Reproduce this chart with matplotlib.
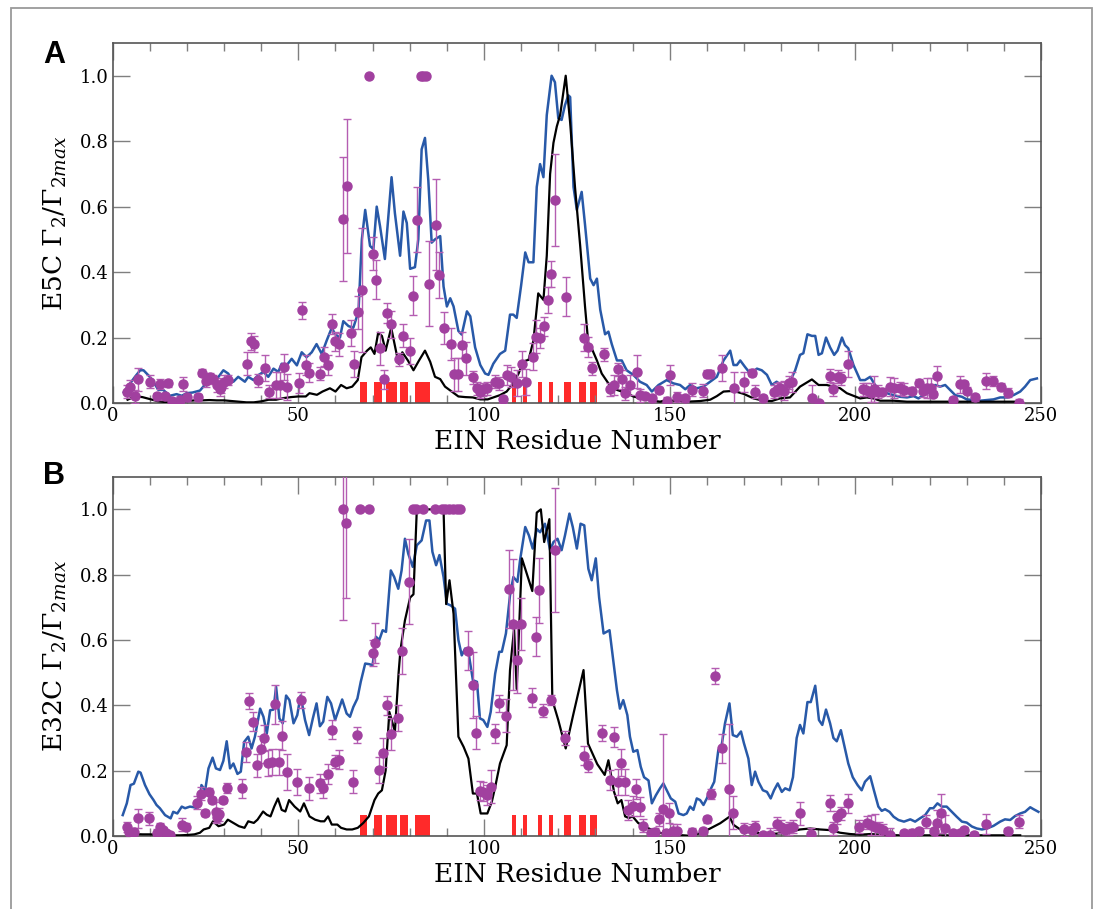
import numpy as np
import matplotlib
matplotlib.use("Agg")
import matplotlib.pyplot as plt
from matplotlib.patches import Rectangle
from matplotlib.ticker import MultipleLocator

plt.rcParams['font.family'] = ['DejaVu Serif']
plt.rcParams['mathtext.fontset'] = 'dejavuserif'

# ---- data: (residue, value) ----
a_blue = [(3, 0.033), (4.7, 0.06), (6, 0.08), (7.4, 0.10), (8.3, 0.10), (10, 0.08), (11.2, 0.06), (12.3, 0.04),
          (13.6, 0.04), (15.4, 0.022), (17.2, 0.027), (18.6, 0.022), (19.9, 0.03), (21.5, 0.032), (23.5, 0.038),
          (24.4, 0.05), (25.8, 0.075), (27.1, 0.07), (28.5, 0.08), (29.8, 0.10), (31.1, 0.09), (32.5, 0.065),
          (33.8, 0.08), (35.6, 0.065), (36.5, 0.08), (37.9, 0.07), (39.2, 0.085), (40.6, 0.095), (41.9, 0.08),
          (43.3, 0.105), (44.6, 0.095), (45.5, 0.12), (46.9, 0.116), (48.2, 0.135), (49.6, 0.115), (50.9, 0.155),
          (52.2, 0.14), (53.6, 0.155), (54.9, 0.18), (56.3, 0.15), (57.6, 0.19), (59, 0.23), (59.9, 0.21),
          (61.2, 0.20), (62.1, 0.25), (63.5, 0.235), (64.8, 0.23), (66.2, 0.28), (67.1, 0.50), (68, 0.59),
          (69.3, 0.48), (70.2, 0.47), (71.1, 0.60), (72, 0.54), (73.3, 0.44), (75.1, 0.69), (76, 0.58),
          (77.4, 0.45), (78.3, 0.585), (79.2, 0.55), (80.1, 0.41), (81.4, 0.415), (82.3, 0.50), (83.2, 0.775),
          (84.1, 0.81), (85, 0.68), (85.9, 0.49), (86.8, 0.50), (88.2, 0.51), (89.1, 0.356), (90, 0.295),
          (90.9, 0.32), (91.8, 0.295), (93.1, 0.22), (94, 0.209), (95.4, 0.28), (96.3, 0.265), (97.6, 0.17),
          (99, 0.116), (100.3, 0.09), (101.2, 0.086), (102.5, 0.12), (104.3, 0.15), (105.7, 0.16), (107, 0.27),
          (107.9, 0.27), (108.8, 0.26), (110, 0.36), (111.1, 0.46), (112, 0.43), (113.3, 0.43), (114.2, 0.66),
          (115.1, 0.73), (116, 0.69), (116.9, 0.88), (118.2, 1.0), (119.1, 0.98), (120, 0.87), (120.9, 0.865),
          (121.8, 0.91), (122.7, 0.94), (123.2, 0.935), (124.1, 0.66), (125, 0.59), (126.3, 0.645),
          (127.2, 0.545), (128.6, 0.38), (129.5, 0.36), (130.4, 0.38), (131.3, 0.285), (132.6, 0.21),
          (133.5, 0.218), (134.4, 0.18), (135.8, 0.13), (137.1, 0.13), (138.4, 0.10), (140.2, 0.086),
          (142, 0.065), (143.8, 0.055), (145.2, 0.035), (147, 0.055), (149.2, 0.07), (151, 0.06), (152.8, 0.055),
          (154.2, 0.042), (155.5, 0.055), (157.3, 0.045), (159.1, 0.05), (160.9, 0.065), (162.7, 0.08),
          (164.5, 0.13), (166.3, 0.16), (167.2, 0.116), (168.1, 0.116), (169, 0.13), (170.3, 0.11),
          (171.7, 0.09), (173.5, 0.105), (174.8, 0.10), (176.2, 0.086), (177.5, 0.055), (178.8, 0.065),
          (180.6, 0.05), (182.4, 0.065), (183.8, 0.10), (185.1, 0.147), (186, 0.152), (187.1, 0.21),
          (188.3, 0.205), (189.2, 0.205), (190.1, 0.147), (191, 0.152), (192.1, 0.20), (193.2, 0.17),
          (194.3, 0.147), (195.2, 0.16), (196.4, 0.20), (197.2, 0.177), (198.1, 0.167), (199.5, 0.116),
          (201.3, 0.07), (202.6, 0.07), (204, 0.08), (205.3, 0.055), (206.7, 0.04), (208.5, 0.03),
          (210.3, 0.024), (212, 0.019), (213.9, 0.017), (215.7, 0.021), (217, 0.014), (218.3, 0.024),
          (220.1, 0.035), (221.5, 0.055), (222.8, 0.05), (224.2, 0.055), (225.5, 0.04), (226.9, 0.024),
          (228.7, 0.019), (230, 0.011), (231.8, 0.009), (233.6, 0.007), (235.4, 0.009), (237.2, 0.011),
          (239, 0.017), (240.8, 0.017), (242.6, 0.024), (244.4, 0.035), (245.7, 0.05), (247.1, 0.07),
          (248.9, 0.075)]

a_black = [(4, 0.01), (5, 0.015), (6.5, 0.02), (8, 0.018), (10, 0.012), (12, 0.006), (14, 0.003), (16, 0.002),
           (18, 0.004), (20, 0.006), (22, 0.008), (24, 0.008), (26, 0.009), (28, 0.008), (30, 0.008), (32, 0.006),
           (34, 0.004), (36, 0.002), (38, 0.002), (40, 0.005), (42, 0.01), (44, 0.01), (46, 0.015), (48, 0.018),
           (50, 0.02), (52, 0.02), (53, 0.03), (55, 0.025), (56.5, 0.035), (58.5, 0.045), (60, 0.035),
           (61.5, 0.055), (63, 0.045), (64.5, 0.05), (66, 0.07), (67, 0.14), (68.5, 0.16), (69.5, 0.17),
           (70.5, 0.15), (71.5, 0.215), (72.5, 0.205), (73.5, 0.16), (75, 0.23), (77, 0.12), (78, 0.155),
           (79.5, 0.13), (81, 0.10), (82.5, 0.13), (84.1, 0.16), (85.5, 0.126), (86.8, 0.08), (88.2, 0.073),
           (89.5, 0.05), (91.3, 0.035), (93.1, 0.02), (95, 0.018), (97, 0.017), (99, 0.011), (101, 0.011),
           (102.5, 0.017), (104.3, 0.024), (106.1, 0.035), (107.5, 0.055), (109.3, 0.09), (110.6, 0.127),
           (112, 0.132), (113.3, 0.19), (114.6, 0.335), (116, 0.315), (116.9, 0.45), (117.8, 0.70),
           (118.7, 0.795), (119.6, 0.845), (120.5, 0.88), (122, 1.0), (123.2, 0.856), (124.5, 0.66),
           (125.9, 0.48), (127.2, 0.295), (128.1, 0.18), (129, 0.167), (130.4, 0.13), (131.7, 0.09),
           (133.5, 0.06), (135.8, 0.04), (138.4, 0.03), (140.2, 0.02), (143.8, 0.01), (147.4, 0.004),
           (149.2, 0.009), (151.9, 0.006), (154.6, 0.004), (158.2, 0.006), (160.9, 0.01), (162.7, 0.021),
           (164.5, 0.035), (167.2, 0.037), (169.9, 0.028), (172.6, 0.014), (175.3, 0.007), (177.5, 0.006),
           (179.7, 0.014), (182.4, 0.017), (185.1, 0.05), (188.3, 0.072), (190.1, 0.055), (192.3, 0.055),
           (194.1, 0.05), (195.9, 0.045), (197.7, 0.03), (199.5, 0.022), (201.3, 0.014), (203.1, 0.017),
           (204.9, 0.014), (206.7, 0.007), (210.3, 0.007), (213.9, 0.004), (221, 0.004), (230, 0.004),
           (243, 0.004)]

b_blue = [(2.7, 0.064), (3.8, 0.10), (4.8, 0.156), (5.7, 0.16), (6.9, 0.197), (7.5, 0.194), (8.7, 0.156),
          (9.9, 0.128), (11, 0.11), (11.8, 0.095), (12.7, 0.085), (14.1, 0.064), (15.6, 0.054), (16.3, 0.074),
          (17.4, 0.069), (18.6, 0.09), (19.5, 0.085), (20.8, 0.09), (21.9, 0.088), (22.8, 0.085), (23.5, 0.115),
          (23.9, 0.156), (24.9, 0.14), (25.8, 0.207), (26.9, 0.24), (27.8, 0.207), (28.9, 0.202), (29.8, 0.23),
          (30.7, 0.29), (31.6, 0.207), (32.5, 0.222), (33.6, 0.19), (34.5, 0.197), (35.4, 0.288), (36.5, 0.304),
          (37.4, 0.268), (38.3, 0.304), (39.7, 0.39), (40.6, 0.365), (41.5, 0.314), (42.4, 0.385),
          (43.3, 0.387), (44, 0.457), (44.9, 0.36), (45.8, 0.345), (46.7, 0.43), (47.6, 0.416), (48.7, 0.345),
          (49.7, 0.37), (50.6, 0.43), (51.8, 0.355), (52.9, 0.309), (53.9, 0.36), (54.9, 0.406), (55.8, 0.336),
          (56.7, 0.35), (57.8, 0.426), (58.8, 0.406), (59.9, 0.355), (60.8, 0.385), (61.8, 0.418), (63, 0.375),
          (63.9, 0.365), (64.8, 0.395), (65.9, 0.421), (66.8, 0.472), (68, 0.528), (69.1, 0.526), (70, 0.523),
          (70.9, 0.61), (71.8, 0.60), (72.7, 0.63), (73.6, 0.625), (74.9, 0.813), (75.8, 0.793), (76.9, 0.757),
          (77.8, 0.813), (78.7, 0.91), (79.6, 0.864), (80.8, 0.824), (81.9, 0.89), (83.2, 0.905), (84.4, 0.966),
          (85.3, 0.966), (86.1, 0.87), (87.1, 0.829), (88, 0.86), (89.1, 0.793), (90, 0.711), (91, 0.706),
          (92.2, 0.696), (93.1, 0.60), (94, 0.553), (94.9, 0.574), (95.8, 0.564), (97, 0.477), (98.1, 0.472),
          (98.9, 0.36), (99.8, 0.355), (100.9, 0.334), (101.8, 0.38), (103, 0.497), (104.1, 0.564),
          (104.8, 0.564), (105.9, 0.62), (107, 0.737), (107.9, 0.793), (109, 0.778), (109.7, 0.844),
          (111.1, 0.946), (112.1, 0.92), (113.1, 0.88), (114.2, 0.94), (115.1, 0.93), (116.4, 0.956),
          (117.8, 0.875), (118.7, 0.90), (119.8, 0.91), (120.9, 0.875), (121.8, 0.92), (123, 0.987),
          (123.9, 0.946), (125, 0.88), (126, 0.956), (127, 0.951), (128.1, 0.818), (129, 0.783), (130.1, 0.85),
          (131, 0.73), (132.2, 0.62), (133.8, 0.63), (134.9, 0.528), (135.8, 0.446), (136.6, 0.39),
          (137.5, 0.416), (138.6, 0.37), (139.3, 0.304), (140.2, 0.258), (141.3, 0.263), (142.2, 0.212),
          (143.1, 0.18), (144.3, 0.17), (145.2, 0.10), (146.3, 0.125), (147.4, 0.146), (148.3, 0.161),
          (149.2, 0.14), (150.3, 0.115), (151.5, 0.105), (152.4, 0.069), (153.7, 0.064), (154.6, 0.069),
          (155.5, 0.09), (156.4, 0.08), (157.3, 0.115), (158.2, 0.11), (159.1, 0.095), (160, 0.115),
          (160.9, 0.14), (162, 0.166), (163.1, 0.263), (164, 0.278), (164.9, 0.345), (166.1, 0.406),
          (167, 0.309), (168.1, 0.304), (169.2, 0.32), (170, 0.284), (171.2, 0.237), (172.1, 0.156),
          (173, 0.197), (173.9, 0.166), (175.1, 0.14), (176.2, 0.135), (177.2, 0.115), (178.1, 0.14),
          (179.1, 0.161), (180.2, 0.135), (181.1, 0.146), (182.3, 0.14), (183.2, 0.18), (184.2, 0.30),
          (185.1, 0.34), (186, 0.314), (187.1, 0.41), (188, 0.41), (189.2, 0.46), (190.2, 0.355), (191.1, 0.34),
          (192.1, 0.387), (193.2, 0.345), (194.1, 0.30), (195, 0.29), (196.1, 0.324), (197.2, 0.268),
          (198.1, 0.222), (199.3, 0.18), (200.6, 0.156), (201.7, 0.14), (202.6, 0.166), (204, 0.183),
          (205, 0.14), (206.2, 0.09), (207.1, 0.077), (208, 0.082), (209.2, 0.074), (210.3, 0.059),
          (211.6, 0.049), (213.1, 0.044), (214.8, 0.051), (216.1, 0.044), (217.4, 0.054), (218.8, 0.064),
          (220.1, 0.085), (221, 0.085), (222.1, 0.10), (223.3, 0.09), (224.6, 0.09), (226, 0.074),
          (227.3, 0.059), (228.7, 0.044), (230, 0.041), (231.4, 0.029), (232.7, 0.023), (234.1, 0.02),
          (235.4, 0.023), (237.2, 0.031), (239, 0.044), (240.3, 0.051), (241.7, 0.049), (243, 0.061),
          (244.4, 0.069), (245.7, 0.074), (247.1, 0.088), (248, 0.082), (249.3, 0.074)]

b_black = [(4, 0.01), (6, 0.006), (8, 0.005), (10, 0.005), (12, 0.004), (14, 0.003), (16, 0.002), (18, 0.002),
           (20, 0.003), (22, 0.005), (23.5, 0.01), (24.5, 0.02), (26, 0.025), (27, 0.045), (28.5, 0.03),
           (30, 0.035), (31, 0.05), (32.5, 0.04), (34, 0.03), (35.5, 0.025), (36.5, 0.045), (38, 0.04),
           (39, 0.05), (40.5, 0.075), (41.5, 0.065), (42.5, 0.06), (43.5, 0.09), (44.5, 0.115), (45.5, 0.08),
           (46.5, 0.075), (47.5, 0.11), (49, 0.09), (50.5, 0.075), (51.5, 0.10), (53, 0.06), (54.5, 0.05),
           (56, 0.045), (57, 0.045), (58, 0.06), (59, 0.035), (60.5, 0.035), (61.5, 0.025), (63, 0.02),
           (64.5, 0.02), (66, 0.025), (67.5, 0.04), (69, 0.06), (70.5, 0.11), (71.5, 0.13), (72.5, 0.14),
           (73.5, 0.2), (74.5, 0.38), (76, 0.32), (77, 0.5), (77.5, 0.57), (78.7, 0.66), (80.1, 0.73),
           (81, 0.74), (81.9, 1.0), (89.1, 1.0), (89.8, 0.71), (90.7, 0.783), (91.8, 0.68), (93.1, 0.304),
           (94.5, 0.273), (95.8, 0.237), (97, 0.13), (98.1, 0.13), (99.1, 0.069), (100.9, 0.069), (102.1, 0.105),
           (103, 0.15), (104.3, 0.222), (106.1, 0.278), (107, 0.508), (108.1, 0.635), (108.8, 0.45),
           (110.2, 0.85), (113, 0.75), (114.2, 0.99), (115.3, 1.0), (116.2, 0.9), (117.6, 0.97), (118.4, 0.416),
           (120, 0.355), (122, 0.268), (124, 0.37), (126.8, 0.508), (128, 0.283), (130.5, 0.22), (132.5, 0.187),
           (133.5, 0.232), (135, 0.136), (136, 0.1), (137, 0.11), (138, 0.06), (139, 0.055), (140, 0.06),
           (141.5, 0.04), (143, 0.03), (145, 0.02), (147, 0.01), (150, 0.005), (155, 0.001), (158.2, 0.008),
           (160.9, 0.023), (163.6, 0.039), (166.1, 0.059), (167.2, 0.034), (169, 0.02), (171.7, 0.013),
           (174.4, 0.008), (177.1, 0.006), (179.7, 0.008), (182.4, 0.013), (185.1, 0.02), (187.8, 0.023),
           (190.5, 0.02), (193.2, 0.018), (195.9, 0.01), (198.6, 0.006), (201.3, 0.004), (204, 0.006),
           (206.7, 0.004), (212, 0.002), (244.4, 0.002)]

# measured points: (residue, value, error)
a_points = [(3.8, 0.035, 0.02), (4.7, 0.05, 0.02), (6, 0.02, 0.02), (6.9, 0.072, 0.035), (10, 0.065, 0.02),
            (11.8, 0.02, 0.01), (12.7, 0.058, 0.015), (14.1, 0.02, 0.01), (15, 0.06, 0.01), (15.9, 0.005, 0.01),
            (18.1, 0.01, 0.01), (19, 0.058, 0.02), (19.9, 0.017, 0.01), (23, 0.017, 0.01), (24, 0.093, 0.01),
            (25.1, 0.068, 0.02), (26.2, 0.078, 0.015), (27.1, 0.072, 0.015), (28, 0.055, 0.02),
            (28.9, 0.042, 0.02), (29.3, 0.05, 0.02), (30, 0.065, 0.02), (31.1, 0.07, 0.015), (36.1, 0.12, 0.035),
            (37.2, 0.188, 0.025), (38.1, 0.18, 0.025), (39, 0.07, 0.02), (41, 0.106, 0.04), (42.2, 0.035, 0.02),
            (44, 0.055, 0.04), (45, 0.055, 0.04), (46, 0.11, 0.04), (47, 0.05, 0.04), (50.1, 0.062, 0.03),
            (51, 0.283, 0.025), (52.1, 0.116, 0.03), (53, 0.093, 0.03), (55.8, 0.089, 0.02), (57, 0.142, 0.03),
            (57.9, 0.116, 0.03), (59.1, 0.242, 0.03), (60, 0.188, 0.03), (61, 0.18, 0.035), (62.1, 0.562, 0.19),
            (63, 0.662, 0.205), (64.1, 0.213, 0.04), (65, 0.12, 0.04), (66, 0.277, 0.05), (67.1, 0.346, 0.19),
            (69.1, 1.0, 0), (70, 0.456, 0.05), (70.9, 0.377, 0.06), (72, 0.167, 0.05), (73.1, 0.072, 0.03),
            (74, 0.275, 0.03), (75, 0.24, 0.04), (77.1, 0.134, 0.02), (78.1, 0.206, 0.035), (80.1, 0.16, 0.04),
            (81, 0.328, 0.06), (81.9, 0.56, 0.1), (83, 1.0, 0), (83.7, 1.0, 0), (84.4, 1.0, 0),
            (85.1, 0.364, 0.13), (87.1, 0.545, 0.14), (88, 0.39, 0.07), (89.1, 0.229, 0.05), (91, 0.18, 0.05),
            (92, 0.088, 0.05), (93.1, 0.088, 0.05), (94, 0.178, 0.04), (95.1, 0.137, 0.05), (97, 0.079, 0.02),
            (98, 0.045, 0.02), (99, 0.035, 0.02), (99.7, 0.042, 0.02), (100.9, 0.045, 0.02), (103, 0.065, 0.02),
            (104, 0.06, 0.02), (105, 0.011, 0.01), (106.1, 0.086, 0.03), (107.2, 0.08, 0.03), (109, 0.06, 0.04),
            (110.2, 0.12, 0.04), (111.2, 0.065, 0.04), (113.1, 0.142, 0.04), (114, 0.203, 0.05),
            (115.1, 0.198, 0.03), (116.2, 0.234, 0.03), (117.1, 0.315, 0.04), (118, 0.395, 0.04),
            (119.1, 0.62, 0.14), (122, 0.325, 0.06), (127, 0.20, 0.04), (128.1, 0.172, 0.03), (129, 0.106, 0.02),
            (132.2, 0.149, 0.02), (134, 0.042, 0.02), (134.9, 0.055, 0.03), (136.2, 0.103, 0.02),
            (137.1, 0.072, 0.03), (138, 0.03, 0.02), (139.2, 0.055, 0.03), (141.1, 0.096, 0.05),
            (142, 0.024, 0.02), (143.4, 0.021, 0.01), (145.2, 0.014, 0.01), (147, 0.04, 0.01), (149.2, 0.007, 0.01),
            (150.1, 0.086, 0.03), (151.9, 0.019, 0.015), (154.1, 0.014, 0.01), (156.1, 0.04, 0.02),
            (159.1, 0.038, 0.02), (160, 0.09, 0.01), (160.9, 0.09, 0.01), (164, 0.106, 0.04), (167.2, 0.045, 0.05),
            (170, 0.065, 0.03), (172.1, 0.093, 0.01), (173, 0.035, 0.02), (175.1, 0.014, 0.01), (178, 0.035, 0.02),
            (178.8, 0.04, 0.02), (179.7, 0.045, 0.02), (180.9, 0.038, 0.03), (182, 0.062, 0.02),
            (182.9, 0.065, 0.03), (188.3, 0.014, 0.04), (190.1, 0.001, 0.005), (193.2, 0.083, 0.02),
            (194.1, 0.042, 0.02), (195.2, 0.08, 0.02), (196.1, 0.075, 0.02), (198.1, 0.12, 0.04),
            (202, 0.042, 0.02), (203, 0.04, 0.02), (204.2, 0.032, 0.03), (205, 0.042, 0.04), (206.2, 0.035, 0.02),
            (207.1, 0.035, 0.01), (209.4, 0.05, 0.03), (210.3, 0.045, 0.03), (212, 0.045, 0.02),
            (213.1, 0.04, 0.02), (215.2, 0.038, 0.01), (217.2, 0.062, 0.01), (218.2, 0.038, 0.02),
            (219.2, 0.045, 0.03), (220.3, 0.045, 0.03), (221, 0.028, 0.01), (222.1, 0.083, 0.03),
            (226.2, 0.009, 0.01), (228.2, 0.057, 0.025), (229.3, 0.057, 0.01), (230.2, 0.038, 0.01),
            (232.3, 0.017, 0.01), (235.2, 0.068, 0.025), (237.2, 0.068, 0.015), (239.2, 0.05, 0.01),
            (241.2, 0.032, 0.015), (244.2, 0.001, 0.01)]

b_points = [(3.8, 0.027, 0.015), (4.5, 0.013, 0.01), (5.7, 0.013, 0.01), (6.7, 0.054, 0.03), (9.7, 0.054, 0.02),
            (11.8, 0.01, 0.01), (12.7, 0.029, 0.01), (13.5, 0.018, 0.01), (14.4, 0.008, 0.01), (15.4, 0.003, 0.01),
            (18.6, 0.034, 0.02), (19.7, 0.029, 0.01), (22.6, 0.102, 0.02), (23.7, 0.13, 0.02), (24.9, 0.071, 0.01),
            (25.8, 0.136, 0.01), (26.8, 0.11, 0.01), (27.7, 0.074, 0.03), (28.2, 0.059, 0.02), (28.7, 0.067, 0.02),
            (29.6, 0.11, 0.01), (30.7, 0.146, 0.015), (34.7, 0.146, 0.03), (35.8, 0.258, 0.03),
            (36.8, 0.414, 0.025), (37.7, 0.35, 0.03), (38.8, 0.217, 0.035), (39.9, 0.265, 0.04),
            (40.8, 0.299, 0.04), (41.7, 0.224, 0.04), (42.8, 0.227, 0.04), (43.7, 0.403, 0.06),
            (44.8, 0.227, 0.04), (45.7, 0.307, 0.045), (46.9, 0.197, 0.055), (49.7, 0.166, 0.04),
            (50.8, 0.416, 0.025), (52.9, 0.146, 0.035), (55.7, 0.161, 0.03), (56.7, 0.146, 0.03),
            (57.9, 0.189, 0.03), (59, 0.326, 0.03), (59.9, 0.227, 0.02), (61, 0.234, 0.03), (61.9, 1.0, 0.34),
            (62.8, 0.958, 0.23), (64.8, 0.166, 0.035), (65.7, 0.309, 0.025), (66.6, 1.0, 0), (68.9, 1.0, 0),
            (70, 0.561, 0.04), (70.7, 0.591, 0.06), (71.8, 0.202, 0.04), (72.9, 0.255, 0.045), (73.8, 0.4, 0.03),
            (74.9, 0.312, 0.05), (76.9, 0.36, 0.04), (77.9, 0.567, 0.07), (79.9, 0.778, 0.13), (80.8, 1.0, 0),
            (81.7, 1.0, 0), (83.7, 1.0, 0), (86.8, 1.0, 0), (88.6, 1.0, 0), (89.6, 1.0, 0), (90.6, 1.0, 0),
            (91.6, 1.0, 0), (92.6, 1.0, 0), (93.6, 1.0, 0), (95.8, 0.567, 0.06), (96.9, 0.462, 0.1),
            (97.9, 0.316, 0.05), (98.8, 0.139, 0.03), (99.8, 0.136, 0.03), (100.9, 0.125, 0.03),
            (101.8, 0.151, 0.05), (103, 0.314, 0.03), (103.9, 0.406, 0.025), (105.9, 0.368, 0.05),
            (106.8, 0.757, 0.12), (107.9, 0.648, 0.2), (109, 0.538, 0.1), (109.9, 0.648, 0.08),
            (112.9, 0.424, 0.03), (113.9, 0.61, 0.06), (114.9, 0.752, 0.1), (116, 0.383, 0.02),
            (118, 0.416, 0.015), (119, 0.875, 0.19), (121.8, 0.3, 0.02), (126.8, 0.246, 0.03),
            (127.9, 0.217, 0.02), (131.9, 0.316, 0.025), (134, 0.171, 0.03), (135, 0.304, 0.03),
            (136.2, 0.164, 0.04), (136.9, 0.225, 0.04), (138, 0.166, 0.04), (138.9, 0.08, 0.03), (140, 0.092, 0.03),
            (141, 0.143, 0.03), (142, 0.09, 0.03), (142.9, 0.031, 0.02), (144.9, 0.008, 0.01), (146.1, 0.013, 0.01),
            (147, 0.051, 0.02), (148.1, 0.082, 0.23), (148.9, 0.008, 0.01), (149.9, 0.071, 0.03),
            (151, 0.016, 0.02), (151.9, 0.016, 0.02), (155.9, 0.013, 0.01), (158.9, 0.016, 0.01),
            (160, 0.051, 0.01), (161.1, 0.128, 0.015), (162.1, 0.49, 0.025), (164, 0.268, 0.045),
            (166.1, 0.143, 0.2), (167, 0.071, 0.05), (169.9, 0.02, 0.02), (172.1, 0.018, 0.02), (173, 0.027, 0.02),
            (175.1, 0.003, 0.01), (176.9, 0.003, 0.02), (179, 0.037, 0.02), (179.9, 0.029, 0.02),
            (181.1, 0.018, 0.02), (182, 0.023, 0.02), (183.2, 0.029, 0.02), (185.1, 0.069, 0.035),
            (188.1, 0.006, 0.02), (193.2, 0.102, 0.025), (194.1, 0.023, 0.02), (195, 0.057, 0.02),
            (196.1, 0.069, 0.02), (198.1, 0.1, 0.03), (201.1, 0.029, 0.02), (203.1, 0.041, 0.02),
            (204.2, 0.034, 0.03), (205.3, 0.027, 0.04), (206.4, 0.023, 0.02), (207.4, 0.018, 0.02),
            (209.2, 0.003, 0.02), (213, 0.008, 0.01), (215.2, 0.01, 0.01), (217.2, 0.016, 0.01),
            (219.1, 0.044, 0.02), (221.2, 0.016, 0.01), (222.1, 0.039, 0.04), (223, 0.069, 0.06),
            (224.2, 0.023, 0.04), (226.4, 0.008, 0.01), (228.2, 0.008, 0.01), (229.3, 0.018, 0.01),
            (232, 0.003, 0.01), (235.2, 0.037, 0.03), (241.2, 0.016, 0.01), (244.2, 0.044, 0.02)]

# residues marked with red bars at the bottom of both panels
red_residues = [67, 68, 71, 72, 74, 75, 76, 78, 79, 82, 83, 84, 85,
                108, 111, 115, 118, 122, 123, 126, 127, 129, 130]
red_height = 0.063

panels = [("A", "E5C", a_blue, a_black, a_points),
          ("B", "E32C", b_blue, b_black, b_points)]

W, H = 1095, 909
fig = plt.figure(figsize=(W / 100, H / 100), dpi=100)

# grey frame around the whole figure
fig.patches.append(Rectangle((11 / W, -0.01), 1081 / W, 1 - 8 / H + 0.01, transform=fig.transFigure,
                             fill=False, edgecolor="#9a9a9a", linewidth=1.3))

axes_boxes = [[112.7 / W, 1 - 403 / H, 928.3 / W, 360 / H],
              [112.7 / W, 1 - 836 / H, 928.3 / W, 359.3 / H]]
letter_y = [1 - 63 / H, 1 - 484 / H]

purple = "#a1409f"
blue = "#2859a8"
red = "#ff2a2a"

for i, (letter, name, blue_line, black_line, points) in enumerate(panels):
    ax = fig.add_axes(axes_boxes[i])
    ax.bar(red_residues, red_height, width=1.0, color=red, linewidth=0, zorder=1)

    bx, by = np.array(blue_line).T
    ax.plot(bx, by, color=blue, linewidth=1.8, zorder=2)
    kx, ky = np.array(black_line).T
    ax.plot(kx, ky, color="black", linewidth=1.6, zorder=3)

    px, py, pe = np.array(points).T
    ax.errorbar(px, py, yerr=pe, fmt="o", color=purple, markersize=6.5, ecolor="#b45db2",
                elinewidth=1.0, capsize=3, capthick=1.0, zorder=4)

    ax.set_xlim(0, 250)
    ax.set_ylim(0, 1.1)
    ax.xaxis.set_major_locator(MultipleLocator(50))
    ax.xaxis.set_minor_locator(MultipleLocator(10))
    ax.yaxis.set_major_locator(MultipleLocator(0.2))
    ax.yaxis.set_major_formatter(matplotlib.ticker.FormatStrFormatter("%.1f"))
    ax.tick_params(which="both", direction="in", top=True, right=True, color="#7f7f7f",
                   labelsize=13, width=1.0)
    ax.tick_params(which="major", length=12, pad=3)
    ax.tick_params(which="minor", length=6)
    for sp in ax.spines.values():
        sp.set_color("#555555")
        sp.set_linewidth(1.2)

    ax.set_xlabel("EIN Residue Number", fontsize=19, labelpad=3)
    ax.set_ylabel(name + r" $\Gamma_2/\Gamma_{2max}$", fontsize=19, labelpad=8)

    fig.text(43 / W, letter_y[i], letter, fontsize=22, fontweight="bold",
             family=["Liberation Sans", "DejaVu Sans"])

fig.savefig("out.png", dpi=100)
